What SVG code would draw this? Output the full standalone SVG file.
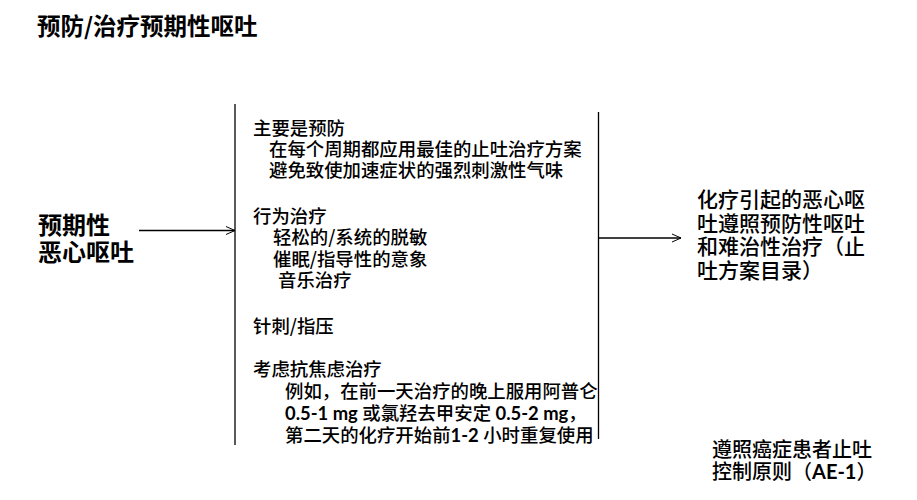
<svg xmlns="http://www.w3.org/2000/svg" width="917" height="500" viewBox="0 0 917 500">
<style>
text{font-family:"Noto Sans CJK SC","Noto Sans",sans-serif;fill:#000}
.t{font-size:23.5px;font-weight:bold}
.l{font-size:24px;font-weight:bold}
.b{font-size:18.4px;font-weight:500}
.r{font-size:21px;font-weight:500}
.f{font-size:20px;font-weight:500}
.lat{font-family:Lato,"Noto Sans CJK SC",sans-serif;font-weight:bold}
.ln{stroke:#000;stroke-width:1.3;fill:none}
</style>
<defs>
<marker id="ah" markerWidth="12" markerHeight="12" refX="10" refY="5" orient="auto" markerUnits="userSpaceOnUse">
<path d="M1,1 L10,5 L1,9" fill="none" stroke="#000" stroke-width="1"/>
</marker>
</defs>
<g id="title"><text class="t" x="37" y="35">预防/治疗预期性呕吐</text></g>
<g id="node-anticipatory"><text class="l"><tspan x="38" y="234">预期性</tspan><tspan x="38" y="261">恶心呕吐</tspan></text></g>
<g id="node-bracket">
<line class="ln" x1="235" y1="104" x2="235" y2="445"/>
<line class="ln" x1="598.5" y1="112" x2="598.5" y2="439"/>
</g>
<g id="node-content">
<text class="b"><tspan x="253" y="135">主要是预防</tspan><tspan x="269" y="156">在每个周期都应用最佳的止吐治疗方案</tspan><tspan x="269" y="177">避免致使加速症状的强烈刺激性气味</tspan></text>
<text class="b"><tspan x="253" y="223">行为治疗</tspan><tspan x="273" y="244">轻松的/系统的脱敏</tspan><tspan x="273" y="266">催眠/指导性的意象</tspan><tspan x="278" y="287">音乐治疗</tspan></text>
<text class="b" x="253" y="333">针刺/指压</text>
<text class="b"><tspan x="253" y="376">考虑抗焦虑治疗</tspan><tspan x="285" y="398">例如，在前一天治疗的晚上服用阿普仑</tspan><tspan x="285" y="420"><tspan class="lat">0.5-1 mg </tspan>或氯羟去甲安定<tspan class="lat"> 0.5-2 mg</tspan>，</tspan><tspan x="285" y="442">第二天的化疗开始前<tspan class="lat">1-2 </tspan>小时重复使用</tspan></text>
</g>
<g id="node-result">
<text class="r"><tspan x="697" y="207">化疗引起的恶心呕</tspan><tspan x="697" y="231">吐遵照预防性呕吐</tspan><tspan x="697" y="254">和难治性治疗（止</tspan><tspan x="697" y="278">吐方案目录）</tspan></text>
</g>
<g id="node-source">
<text class="f"><tspan x="712" y="457">遵照癌症患者止吐</tspan><tspan x="712" y="479">控制原则（<tspan class="lat">AE-1</tspan>）</tspan></text>
</g>
<g id="connectors">
<line class="ln" x1="139" y1="230.5" x2="235" y2="230.5" marker-end="url(#ah)"/>
<line class="ln" x1="598.5" y1="238" x2="681" y2="238" marker-end="url(#ah)"/>
</g>
</svg>
